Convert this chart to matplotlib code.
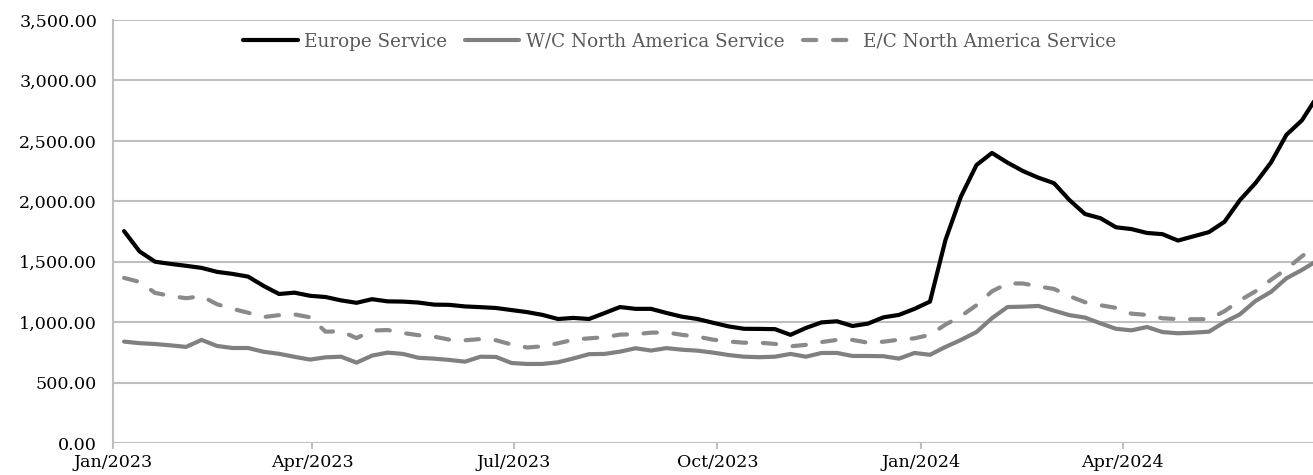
import pandas as pd
import matplotlib
matplotlib.use("Agg")
import matplotlib.pyplot as plt
import matplotlib.dates as mdates
from matplotlib.ticker import FuncFormatter, MultipleLocator

# Weekly freight rate index, Jan 2023 - Jun 2024
weeks = pd.date_range("2023-01-06", periods=78, freq="7D")

europe = [
    1753, 1585, 1500, 1482, 1466, 1449, 1416, 1399, 1377, 1300,
    1233, 1244, 1218, 1208, 1180, 1160, 1190, 1172, 1170, 1162,
    1145, 1143, 1130, 1124, 1117, 1100, 1083, 1060, 1026, 1035,
    1026, 1075, 1125, 1110, 1110, 1076, 1045, 1026, 995, 965,
    945, 944, 942, 895, 952, 998, 1007, 968, 988, 1040,
    1060, 1110, 1170, 1680, 2040, 2300, 2400, 2320, 2250, 2195,
    2150, 2010, 1895, 1860, 1785, 1770, 1738, 1728, 1675, 1710,
    1745, 1830, 2010, 2150, 2320, 2550, 2670, 2870,
]

wc_north_america = [
    839, 826, 819, 808, 795, 853, 803, 786, 786, 755,
    738, 713, 690, 709, 714, 665, 723, 748, 737, 705,
    698, 687, 673, 714, 712, 662, 654, 654, 668, 700,
    735, 737, 756, 784, 765, 785, 772, 764, 748, 728,
    714, 710, 714, 737, 714, 745, 745, 720, 720, 718,
    698, 745, 730, 795, 853, 918, 1033, 1125, 1128, 1134,
    1095, 1058, 1038, 990, 945, 932, 960, 918, 908, 913,
    921, 1000, 1065, 1175, 1250, 1363, 1432, 1510,
]

ec_north_america = [
    1366, 1333, 1242, 1217, 1198, 1215, 1148, 1110, 1078, 1042,
    1058, 1064, 1040, 921, 925, 868, 930, 935, 910, 892,
    880, 855, 850, 860, 850, 815, 790, 800, 825, 855,
    866, 875, 897, 900, 913, 915, 895, 880, 855, 840,
    830, 830, 820, 800, 812, 835, 853, 853, 830, 838,
    855, 866, 895, 980, 1050, 1140, 1255, 1320, 1320, 1295,
    1275, 1215, 1165, 1140, 1118, 1070, 1060, 1032, 1025, 1024,
    1025, 1090, 1180, 1255, 1350, 1440, 1545, 1640,
]

series_names = ["Europe Service", "W/C North America Service", "E/C North America Service"]

plt.rcParams["font.family"] = ["DejaVu Serif"]

fig = plt.figure(figsize=(13.13, 4.75), dpi=100)
ax = fig.add_axes([113 / 1313, 32 / 475, 1 - 113 / 1313, 423 / 475])

grid_color = "#BFBFBF"

ax.plot(weeks, europe, color="black", lw=3, solid_capstyle="round",
        solid_joinstyle="round", label=series_names[0], zorder=4)
ax.plot(weeks, wc_north_america, color="#808080", lw=3, solid_capstyle="round",
        solid_joinstyle="round", label=series_names[1], zorder=3)
ax.plot(weeks, ec_north_america, color="#8A8A8A", lw=3, dashes=(3.2, 4.0),
        dash_capstyle="round", dash_joinstyle="round", label=series_names[2], zorder=3)

ax.set_ylim(0, 3500)
ax.set_xlim(pd.Timestamp("2023-01-01"), pd.Timestamp("2024-06-26"))
ax.yaxis.set_major_locator(MultipleLocator(500))
ax.yaxis.set_major_formatter(FuncFormatter(lambda v, _: f"{v:,.2f}"))
ax.xaxis.set_major_locator(mdates.MonthLocator(bymonth=[1, 4, 7, 10]))
ax.xaxis.set_major_formatter(mdates.DateFormatter("%b/%Y"))

ax.grid(axis="y", color=grid_color, lw=1.5)
ax.set_axisbelow(True)
for side in ["top", "right", "bottom"]:
    ax.spines[side].set_visible(False)
ax.spines["left"].set_color(grid_color)
ax.spines["left"].set_linewidth(1.5)

ax.tick_params(axis="y", length=0, pad=11.5, labelsize=12.6, labelcolor="black")
ax.tick_params(axis="x", length=4, width=1.5, color=grid_color, pad=4,
               labelsize=12.6, labelcolor="black")

# legend sits a bit left of the axes centre
leg = ax.legend(loc="upper center", bbox_to_anchor=(0.4725, 1.0), ncol=3, frameon=False,
                fontsize=13.2, handlelength=2.95, handletextpad=0.35, columnspacing=1.0,
                borderaxespad=0.3)
for t in leg.get_texts():
    t.set_color("#595959")

plt.savefig("out.png", dpi=100)
plt.close()
